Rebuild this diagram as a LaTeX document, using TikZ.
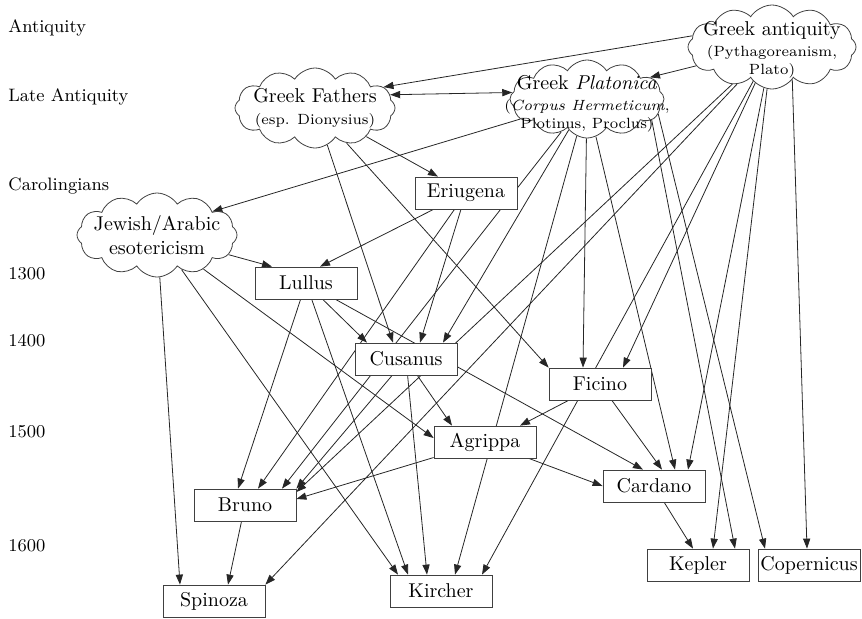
\documentclass[tikz,border=0pt]{standalone}
\usepackage{tikz}
\usetikzlibrary{shapes.symbols,arrows.meta,calc}
\pgfdeclarelayer{nodelayer}
\pgfdeclarelayer{edgelayer}
\pgfsetlayers{edgelayer,nodelayer,main}
\newcommand{\subtext}{\fontsize{7.4pt}{9pt}\selectfont}
\tikzstyle{box}=[rectangle, draw=black!75, fill=white, minimum width=51pt, minimum height=16pt, inner sep=1pt]
\tikzstyle{puff}=[cloud, cloud puffs=12, cloud puff arc=115, cloud ignores aspect, draw=black!75, fill=white, inner sep=0pt]
\tikzstyle{era}=[anchor=west, font=\small, inner sep=0pt]
\tikzstyle{directed edge}=[-{Triangle[length=5pt,width=3.6pt]}, black!85]
\tikzstyle{mutual edge}=[{Triangle[length=5pt,width=3.6pt]}-{Triangle[length=5pt,width=3.6pt]}, black!85]

\begin{document}
\begin{tikzpicture}[x=0.5pt, y=-0.5pt]
    \useasboundingbox (0,0) rectangle (862,618);
    	\begin{pgfonlayer}{nodelayer}
    		\node [style=era] (antiquity) at (8,28) {Antiquity};
    		\node [style=era] (late) at (8,97) {Late Antiquity};
    		\node [style=era] (carolingians) at (8,186) {Carolingians};
    		\node [style=era] (c1300) at (8,274) {1300};
    		\node [style=era] (c1400) at (8,341) {1400};
    		\node [style=era] (c1500) at (8,432) {1500};
    		\node [style=era] (c1600) at (8,546) {1600};
    		\node [style=puff, minimum width=84pt, minimum height=42pt, label={[align=center, yshift=-1.5pt]center:Greek antiquity\\[-1.5pt]\subtext (Pythagoreanism,\\[-3pt]\subtext Plato)}] (antiq) at (772,47) {};
    		\node [style=puff, minimum width=77pt, minimum height=39pt, label={[align=center, yshift=-2.5pt]center:Greek \textit{Platonica}\\[-1.5pt]\subtext (\textit{Corpus Hermeticum},\\[-3pt]\subtext Plotinus, Proclus)}] (platonica) at (587,99) {};
    		\node [style=puff, minimum width=80pt, minimum height=40pt, label={[align=center]center:Greek Fathers\\[-1pt]\subtext (esp. Dionysius)}] (fathers) at (315,108) {};
    		\node [style=puff, minimum width=80pt, minimum height=42pt, label={[align=center]center:Jewish/Arabic\\esotericism}] (jewish) at (157,235) {};
    		\node [style=box] (eriugena) at (466,193) {Eriugena};
    		\node [style=box] (lullus) at (306,283) {Lullus};
    		\node [style=box] (cusanus) at (406,359) {Cusanus};
    		\node [style=box] (ficino) at (600,384) {Ficino};
    		\node [style=box] (agrippa) at (485,442) {Agrippa};
    		\node [style=box] (cardano) at (654,486) {Cardano};
    		\node [style=box] (bruno) at (245,505) {Bruno};
    		\node [style=box] (spinoza) at (214,601) {Spinoza};
    		\node [style=box] (kircher) at (441,591) {Kircher};
    		\node [style=box] (kepler) at (698,565) {Kepler};
    		\node [style=box] (copernicus) at (809,565) {Copernicus};
    	\end{pgfonlayer}
    	\begin{pgfonlayer}{edgelayer}
    		% late antiquity and the middle ages
    		\draw [style=directed edge] (antiq.172) to (fathers.17);
    		\draw [style=directed edge] (antiq) to (platonica.19);
    		\draw [style=mutual edge] (fathers.10) to (platonica.175);
    		\draw [style=directed edge] (platonica) to (jewish.23);
    		\draw [style=directed edge] (fathers) to ($(eriugena.north)+(-28,0)$);
    		\draw [style=directed edge] (jewish) to ($(lullus.north)+(-34,0)$);
    		\draw [style=directed edge] (eriugena) to ($(lullus.north)+(14,0)$);
    		% Cusanus
    		\draw [style=directed edge] (lullus) to ($(cusanus.north)+(-39,0)$);
    		\draw [style=directed edge] (fathers) to ($(cusanus.north)+(-13,0)$);
    		\draw [style=directed edge] (eriugena) to ($(cusanus.north)+(14,0)$);
    		\draw [style=directed edge] (platonica) to ($(cusanus.north)+(37,0)$);
    		% Ficino
    		\draw [style=directed edge] (fathers) to (ficino.north west);
    		\draw [style=directed edge] (platonica) to ($(ficino.north)+(-17,0)$);
    		\draw [style=directed edge] (antiq) to ($(ficino.north)+(23,0)$);
    		% Agrippa
    		\draw [style=directed edge] (cusanus) to ($(agrippa.north)+(-33,0)$);
    		\draw [style=directed edge] (jewish) to ($(agrippa.west)+(0,-4)$);
    		\draw [style=directed edge] (ficino) to ($(agrippa.north)+(35,0)$);
    		% Cardano
    		\draw [style=directed edge] (lullus) to ($(cardano.north)+(-11,0)$);
    		\draw [style=directed edge] (ficino) to ($(cardano.north)+(8,0)$);
    		\draw [style=directed edge] (platonica) to ($(cardano.north)+(21,0)$);
    		\draw [style=directed edge] (antiq) to ($(cardano.north)+(34,0)$);
    		\draw [style=directed edge] (agrippa) to (cardano.west);
    		% Bruno
    		\draw [style=directed edge] (lullus) to ($(bruno.north)+(-7,0)$);
    		\draw [style=directed edge] (eriugena) to ($(bruno.north)+(13,0)$);
    		\draw [style=directed edge] (platonica) to ($(bruno.north)+(37,0)$);
    		\draw [style=directed edge] (cusanus) to (bruno.north east);
    		\draw [style=directed edge] (antiq) to ($(bruno.east)+(0,-13)$);
    		\draw [style=directed edge] (agrippa) to ($(bruno.east)+(0,-6)$);
    		% Spinoza
    		\draw [style=directed edge] (jewish) to ($(spinoza.north)+(-34,0)$);
    		\draw [style=directed edge] (bruno) to ($(spinoza.north)+(14,0)$);
    		\draw [style=directed edge] (antiq) to (spinoza.north east);
    		% Kircher
    		\draw [style=directed edge] (jewish) to ($(kircher.north)+(-43,0)$);
    		\draw [style=directed edge] (lullus) to ($(kircher.north)+(-33,0)$);
    		\draw [style=directed edge] (cusanus) to ($(kircher.north)+(-14,0)$);
    		\draw [style=directed edge] (platonica) to ($(kircher.north)+(14,0)$);
    		\draw [style=directed edge] (antiq) to ($(kircher.north)+(41,0)$);
    		% Kepler and Copernicus
    		\draw [style=directed edge] (cardano) to ($(kepler.north)+(-5,0)$);
    		\draw [style=directed edge] (antiq) to ($(kepler.north)+(15,0)$);
    		\draw [style=directed edge] (platonica.-18) to ($(kepler.north)+(37,0)$);
    		\draw [style=directed edge] (platonica.-12) to ($(copernicus.north)+(-44,0)$);
    		\draw [style=directed edge] (antiq.-58) to ($(copernicus.north)+(-2,0)$);
    	\end{pgfonlayer}
\end{tikzpicture}
\end{document}
